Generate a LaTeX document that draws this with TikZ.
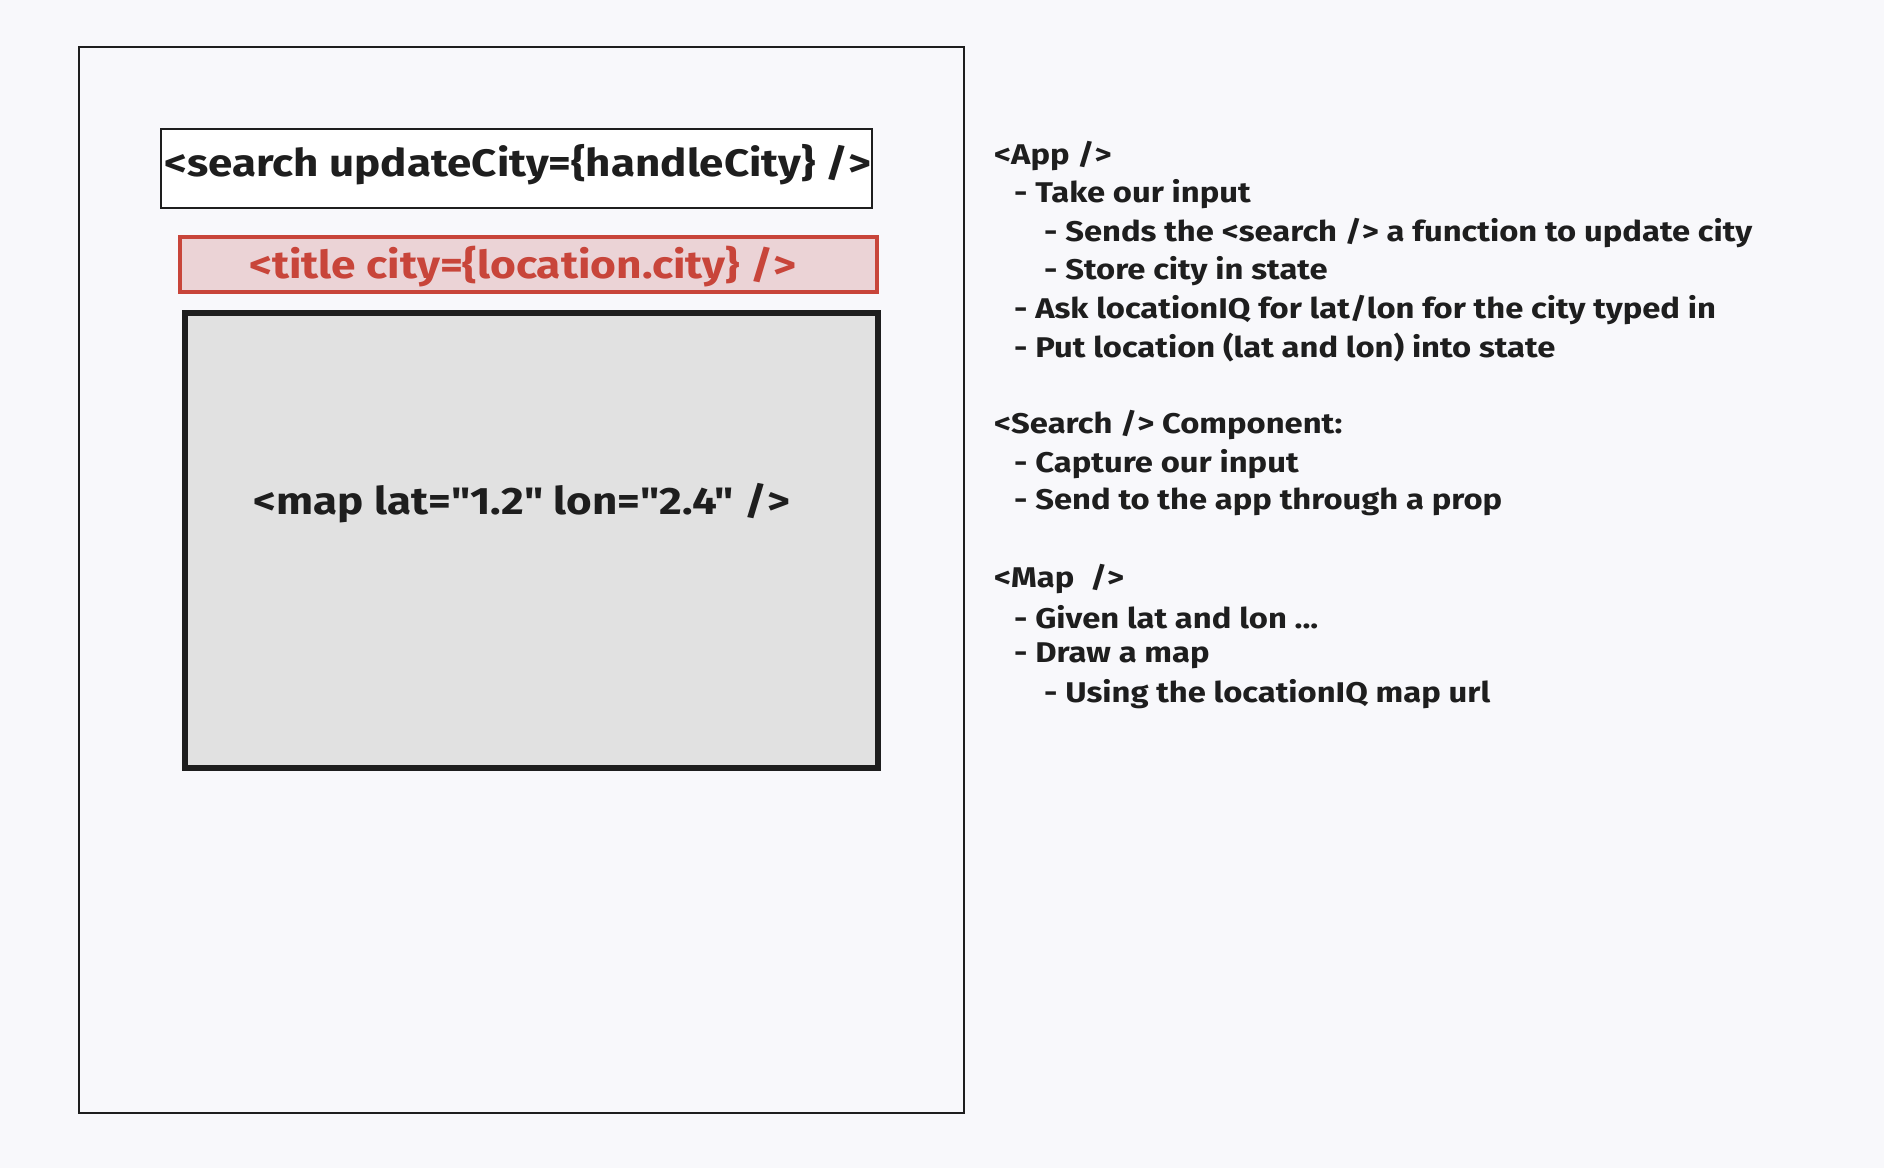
\documentclass[tikz,border=0pt]{standalone}
\usepackage{fontspec}
\setmainfont{Fira Sans}[FakeStretch=1.15, Ligatures=TeXOff]
\newcommand\dq{\char34\relax}
\definecolor{bg}{HTML}{F8F8FB}
\definecolor{ink}{HTML}{1E1E1E}
\definecolor{redink}{HTML}{C8453A}
\definecolor{pinkfill}{HTML}{EBD3D6}
\definecolor{mapfill}{HTML}{E1E1E1}
\tikzset{
  frame/.style={draw=ink, line width=2.2pt},
  searchbox/.style={draw=ink, line width=2.2pt, fill=white},
  titlebox/.style={draw=redink, line width=3.5pt, fill=pinkfill},
  mapbox/.style={draw=ink, line width=5.5pt, fill=mapfill},
  bigtxt/.style={font=\fontsize{38.2}{40}\selectfont\bfseries, text=ink, inner sep=0pt},
  notes/.style={font=\fontsize{28.5}{32}\selectfont\bfseries, text=ink, anchor=west, inner sep=0pt},
}
\begin{document}
\begin{tikzpicture}[x=1pt,y=-1pt]
\fill[bg] (0,0) rectangle (1884,1168);
\useasboundingbox (0,0) rectangle (1884,1168);
\draw[frame] (79,47) rectangle (964,1113);
\draw[searchbox] (161,129) rectangle (872,208);
\draw[titlebox] (180,237) rectangle (877,292);
\draw[mapbox] (185,313) rectangle (878,768);
\node[bigtxt] (search) at (518,165) {<search updateCity=\{handleCity\} />};
\node[bigtxt, text=redink, font=\fontsize{38.5}{40}\selectfont\bfseries] (title) at (523,267) {<title city=\{location.city\} />};
\node[bigtxt] (map) at (522,503) {<map lat=\dq1.2\dq{} lon=\dq2.4\dq{} />};
% notes
\node[notes] (n1) at (994,156) {<App />};
\node[notes] (n2) at (1014,194) {- Take our input};
\node[notes] (n3) at (1044,233) {- Sends the <search /> a function to update city};
\node[notes] (n4) at (1044,271) {- Store city in state};
\node[notes] (n5) at (1014,310) {- Ask locationIQ for lat/lon for the city typed in};
\node[notes] (n6) at (1014,348) {- Put location (lat and lon) into state};
\node[notes] (n7) at (994,425) {<Search /> Component:};
\node[notes] (n8) at (1014,464) {- Capture our input};
\node[notes] (n9) at (1014,502) {- Send to the app through a prop};
\node[notes] (n10) at (994,579) {<Map \ />};
\node[notes] (n11) at (1014,617) {- Given lat and lon ...};
\node[notes] (n12) at (1014,656) {- Draw a map};
\node[notes] (n13) at (1044,694) {- Using the locationIQ map url};
\end{tikzpicture}
\end{document}
